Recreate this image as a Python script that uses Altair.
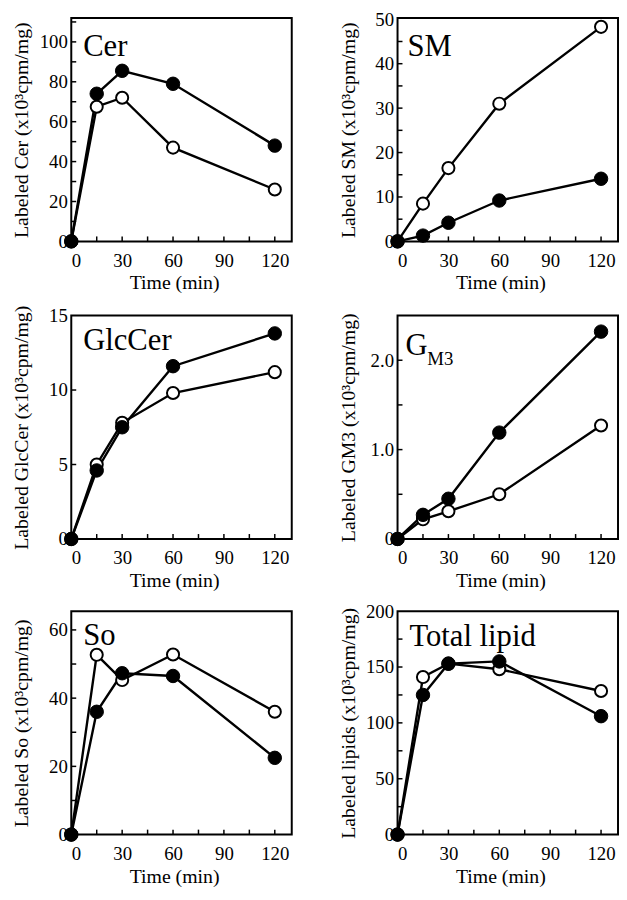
import altair as alt
import pandas as pd

# ---- data ----
time = [0, 15, 30, 60, 120]

cer_filled = [0, 74, 85.5, 79, 48]
cer_open = [0, 67.5, 72, 47, 26]
sm_filled = [0, 1.3, 4.2, 9.2, 14.1]
sm_open = [0, 8.5, 16.5, 31, 48.3]
glc_filled = [0, 4.6, 7.5, 11.6, 13.8]
glc_open = [0, 5.0, 7.8, 9.8, 11.2]
gm3_filled = [0, 0.27, 0.45, 1.19, 2.32]
gm3_open = [0, 0.22, 0.31, 0.50, 1.27]
so_filled = [0, 36, 47.3, 46.5, 22.5]
so_open = [0, 52.7, 45.3, 52.8, 36]
tot_filled = [0, 125, 153, 155, 106]
tot_open = [0, 141, 153, 148, 128.5]

x_labels = [0, 30, 60, 90, 120]
x_ticks = [15, 30, 45, 60, 75, 90, 105, 120]

cer_labels = [0, 20, 40, 60, 80, 100]
cer_ticks = [10, 20, 30, 40, 50, 60, 70, 80, 90, 100, 110]
sm_labels = [0, 10, 20, 30, 40, 50]
sm_ticks = [5, 10, 15, 20, 25, 30, 35, 40, 45]
glc_labels = [0, 5, 10, 15]
glc_ticks = [5, 10]
gm3_labels = [0, 1.0, 2.0]
gm3_ticks = [0.5, 1.0, 1.5, 2.0]
so_labels = [0, 20, 40, 60]
so_ticks = [10, 20, 30, 40, 50, 60]
tot_labels = [0, 50, 100, 150, 200]
tot_ticks = [25, 50, 75, 100, 125, 150, 175]

W, H = 223, 226
FONT = "Liberation Serif"


def panel(label, ytitle, ymax, ylabels, yticks, filled, opened,
          lab_x, lab_y, sub=None, decimals=False):
    xs = alt.Scale(domain=[0, 130], nice=False, zero=True)
    ys = alt.Scale(domain=[0, ymax], nice=False, zero=True)
    xaxis = alt.Axis(values=x_labels, title="Time (min)", titleX=104, titleY=48,
                     titleBaseline="alphabetic", titleAlign="center",
                     labelPadding=10, ticks=False, domain=False, grid=False)
    yargs = dict(values=ylabels, title=ytitle, titleX=-40, titleY=H / 2,
                 titleAngle=270, titleBaseline="bottom", titleAlign="center",
                 labelPadding=4, ticks=False, domain=False, grid=False)
    if decimals:
        yargs["labelExpr"] = "datum.value == 0 ? '0' : format(datum.value, '.1f')"
    yaxis = alt.Axis(**yargs)

    rows = []
    for t, v in zip(time, filled):
        rows.append({"time": t, "y": v, "s": "filled"})
    for t, v in zip(time, opened):
        rows.append({"time": t, "y": v, "s": "open"})
    df = pd.DataFrame(rows)

    base = alt.Chart(df)
    lines = base.mark_line(color="black", strokeWidth=2.4).encode(
        x=alt.X("time:Q", scale=xs, axis=xaxis),
        y=alt.Y("y:Q", scale=ys, axis=yaxis),
        detail="s:N",
    )
    pts_open = base.transform_filter("datum.s == 'open'").mark_point(
        shape="circle", filled=True, fill="white", stroke="black",
        strokeWidth=2, size=150, opacity=1,
    ).encode(x="time:Q", y="y:Q")
    pts_filled = base.transform_filter("datum.s == 'filled'").mark_point(
        shape="circle", filled=True, fill="black", stroke="black",
        strokeWidth=1, size=185, opacity=1,
    ).encode(x="time:Q", y="y:Q")

    xt = alt.Chart(pd.DataFrame({"time": x_ticks})).mark_rule(
        color="black", strokeWidth=1.5
    ).encode(x="time:Q", y=alt.value(H), y2=alt.value(H - 5))
    yt = alt.Chart(pd.DataFrame({"y": yticks})).mark_rule(
        color="black", strokeWidth=1.5
    ).encode(y="y:Q", x=alt.value(0), x2=alt.value(5))

    txt = alt.Chart(pd.DataFrame({"t": [label]})).mark_text(
        align="left", baseline="alphabetic", font=FONT, fontSize=31, color="black"
    ).encode(text="t:N", x=alt.value(lab_x), y=alt.value(lab_y))
    layers = [lines, xt, yt, pts_open, pts_filled, txt]
    if sub:
        stxt = alt.Chart(pd.DataFrame({"t": [sub]})).mark_text(
            align="left", baseline="alphabetic", font=FONT, fontSize=19, color="black"
        ).encode(text="t:N", x=alt.value(lab_x + 22), y=alt.value(lab_y + 10))
        layers.append(stxt)
    return alt.layer(*layers).properties(width=W, height=H)


panels = [
    panel("Cer", "Labeled Cer (x10³cpm/mg)", 112, cer_labels, cer_ticks,
          cer_filled, cer_open, 12, 38),
    panel("SM", "Labeled SM (x10³cpm/mg)", 50.3, sm_labels, sm_ticks,
          sm_filled, sm_open, 10, 38),
    panel("GlcCer", "Labeled GlcCer (x10³cpm/mg)", 15, glc_labels, glc_ticks,
          glc_filled, glc_open, 12, 35),
    panel("G", "Labeled GM3 (x10³cpm/mg)", 2.5, gm3_labels, gm3_ticks,
          gm3_filled, gm3_open, 8, 40, sub="M3", decimals=True),
    panel("So", "Labeled So (x10³cpm/mg)", 65.5, so_labels, so_ticks,
          so_filled, so_open, 12, 34),
    panel("Total lipid", "Labeled lipids (x10³cpm/mg)", 200, tot_labels, tot_ticks,
          tot_filled, tot_open, 12, 35),
]

chart = alt.concat(*panels, columns=2, spacing={"row": 10, "column": 44}).properties(
    padding={"left": 2, "top": -4, "right": 0, "bottom": 0},
    background="white",
).configure_view(
    stroke="black", strokeWidth=2
).configure_axis(
    labelFont=FONT, labelFontSize=19, labelColor="black",
    titleFont=FONT, titleFontSize=20, titleColor="black", titleFontWeight="normal",
)

chart.save("out.html", embed_options={"renderer": "svg", "actions": False})
